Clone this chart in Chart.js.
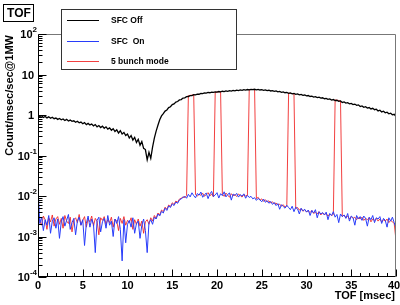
<!DOCTYPE html>
<html>
<head>
<meta charset="utf-8">
<script src="https://cdn.jsdelivr.net/npm/chart.js@4.4.1/dist/chart.umd.min.js"></script>
<style>
  body { margin: 0; background: #fff; }
</style>
</head>
<body>
<canvas id="tof" width="400" height="305"></canvas>
<script>
// histogram bins, 0.2 msec wide, 0..40 msec
var binWidth = 0.2;

var sfcOff = [
  0.98, 0.92, 0.96, 0.87, 0.92, 0.85, 0.90, 0.83, 0.88, 0.81,
  0.84, 0.78, 0.82, 0.76, 0.80, 0.73, 0.78, 0.71, 0.75, 0.70,
  0.72, 0.66, 0.70, 0.64, 0.67, 0.61, 0.65, 0.58, 0.62, 0.57,
  0.60, 0.54, 0.58, 0.51, 0.55, 0.49, 0.53, 0.47, 0.51, 0.45,
  0.48, 0.42, 0.46, 0.39, 0.43, 0.36, 0.41, 0.34, 0.37, 0.31,
  0.34, 0.27, 0.31, 0.24, 0.28, 0.21, 0.25, 0.18, 0.22, 0.15,
  0.14, 0.078, 0.12, 0.085, 0.16, 0.27, 0.40, 0.56, 0.76, 0.95,
  1.08, 1.25, 1.33, 1.52, 1.60, 1.80, 1.88, 2.08, 2.15, 2.35,
  2.40, 2.62, 2.66, 2.84, 2.86, 3.02, 3.00, 3.16, 3.13, 3.28,
  3.25, 3.42, 3.36, 3.52, 3.46, 3.60, 3.54, 3.68, 3.61, 3.74,
  3.68, 3.80, 3.72, 3.86, 3.78, 3.92, 3.84, 3.98, 3.90, 4.04,
  3.96, 4.10, 4.01, 4.16, 4.06, 4.22, 4.12, 4.26, 4.16, 4.30,
  4.22, 4.32, 4.18, 4.28, 4.14, 4.22, 4.08, 4.16, 4.00, 4.08,
  3.92, 4.00, 3.84, 3.92, 3.74, 3.82, 3.64, 3.72, 3.55, 3.62,
  3.44, 3.52, 3.34, 3.42, 3.25, 3.31, 3.15, 3.22, 3.06, 3.12,
  2.96, 3.03, 2.87, 2.93, 2.78, 2.85, 2.70, 2.75, 2.61, 2.66,
  2.52, 2.58, 2.43, 2.49, 2.34, 2.41, 2.26, 2.31, 2.17, 2.22,
  2.04, 2.11, 1.97, 2.02, 1.89, 1.94, 1.81, 1.86, 1.73, 1.78,
  1.62, 1.68, 1.55, 1.60, 1.48, 1.53, 1.41, 1.46, 1.35, 1.39,
  1.26, 1.31, 1.19, 1.24, 1.13, 1.17, 1.07, 1.11, 1.01, 1.04,
  0.92
];

var sfcOn = [
  0.016,
  0.0021, 0.0030, 0.0014, 0.0026, 0.0019, 0.0033, 0.0012, 0.0024, 0.0029, 0.0016,
  0.0027, 0.0009, 0.0023, 0.0031, 0.0018, 0.0025, 0.0035, 0.0015, 0.0022, 0.0028,
  0.0011, 0.0024, 0.0030, 0.0019, 0.0026, 0.0006, 0.0021, 0.0032, 0.0017, 0.0027,
  0.0020, 0.0004, 0.0025, 0.0030, 0.0013, 0.0023, 0.0028, 0.0016, 0.0033, 0.0019,
  0.0024, 0.0010, 0.0027, 0.0021, 0.0031, 0.0015, 0.00025, 0.0026, 0.0007, 0.0020,
  0.0025, 0.0017, 0.0029, 0.0012, 0.0021, 0.0024, 0.0009, 0.0019, 0.0027, 0.0014,
  0.0004, 0.0022, 0.0026, 0.0020, 0.0030, 0.0027, 0.0036, 0.0032, 0.0042, 0.0038,
  0.0050, 0.0044, 0.0057, 0.0052, 0.0064, 0.0058, 0.0071, 0.0066, 0.0080, 0.0085,
  0.0092, 0.0098, 0.0088, 0.0110, 0.0095, 0.0120, 0.0102, 0.0090, 0.0115, 0.0105,
  0.0125, 0.0093, 0.0108, 0.0118, 0.0086, 0.0112, 0.0130, 0.0097, 0.0106, 0.0121,
  0.0089, 0.0114, 0.0102, 0.0127, 0.0095, 0.0109, 0.0119, 0.0079, 0.0112, 0.0103,
  0.0116, 0.0094, 0.0108, 0.0099, 0.0113, 0.0088, 0.0104, 0.0092, 0.0098, 0.0085,
  0.0091, 0.0078, 0.0087, 0.0080, 0.0072, 0.0084, 0.0070, 0.0077, 0.0066, 0.0073,
  0.0062, 0.0069, 0.0058, 0.0065, 0.0047, 0.0061, 0.0055, 0.0050, 0.0059, 0.0052,
  0.0046, 0.0056, 0.0041, 0.0053, 0.0048, 0.0036, 0.0050, 0.0043, 0.0047, 0.0040,
  0.0045, 0.0033, 0.0044, 0.0038, 0.0046, 0.0029, 0.0041, 0.0036, 0.0039, 0.0034,
  0.0040, 0.0026, 0.0037, 0.0033, 0.0041, 0.0030, 0.0035, 0.0022, 0.0036, 0.0031,
  0.0034, 0.0028, 0.0037, 0.0024, 0.0032, 0.0029, 0.0019, 0.0033, 0.0027, 0.0031,
  0.0025, 0.0032, 0.0028, 0.0018, 0.0030, 0.0026, 0.0033, 0.0022, 0.0029, 0.0027,
  0.0031, 0.0021, 0.0028, 0.0025, 0.0017, 0.0029, 0.0024, 0.0030, 0.0022, 0.0016
];

// 5 bunch mode: same baseline plus the five open-chopper windows
var bunch5 = [
  0.0030,
  0.0024, 0.0019, 0.0032, 0.0026, 0.0015, 0.0029, 0.0023, 0.0034, 0.0018, 0.0027,
  0.0031, 0.0020, 0.0028, 0.0016, 0.0033, 0.0024, 0.0021, 0.0030, 0.0013, 0.0026,
  0.0029, 0.0022, 0.0035, 0.0019, 0.0025, 0.0031, 0.0017, 0.0027, 0.0023, 0.0032,
  0.0018, 0.0028, 0.0024, 0.0011, 0.0029, 0.0025, 0.0031, 0.0020, 0.0026, 0.0022,
  0.0030, 0.0017, 0.0027, 0.0024, 0.0014, 0.0028, 0.0021, 0.0031, 0.0019, 0.0025,
  0.0022, 0.0029, 0.0015, 0.0026, 0.0020, 0.0027, 0.0018, 0.0024, 0.0012, 0.0023,
  0.0026, 0.0020, 0.0029, 0.0024, 0.0033, 0.0028, 0.0038, 0.0034, 0.0045, 0.0041,
  0.0053, 0.0047, 0.0060, 0.0055, 0.0068, 0.0062, 0.0075, 0.0070, 0.0084, 0.0088,
  0.0095, 0.0091, 0.0103, 3.00, 3.05, 3.10, 3.12, 0.0108, 0.0099, 0.0112,
  0.0104, 0.0117, 0.0098, 0.0109, 0.0121, 0.0100, 0.0113, 0.0095, 3.66, 3.70,
  3.72, 3.75, 0.0110, 0.0098, 0.0118, 0.0105, 0.0093, 0.0114, 0.0101, 0.0108,
  0.0097, 0.0112, 0.0103, 0.0094, 0.0109, 0.0100, 0.0106, 4.20, 4.25, 4.28,
  4.26, 0.0086, 0.0093, 0.0079, 0.0085, 0.0074, 0.0081, 0.0071, 0.0076, 0.0068,
  0.0072, 0.0064, 0.0067, 0.0060, 0.0063, 0.0056, 0.0061, 0.0053, 0.0057, 3.45,
  3.42, 3.38, 3.34, 0.0049, 0.0052, 0.0045, 0.0048, 0.0042, 0.0046, 0.0041,
  0.0043, 0.0039, 0.0044, 0.0037, 0.0040, 0.0036, 0.0041, 0.0034, 0.0038, 0.0035,
  0.0037, 0.0032, 0.0036, 0.0033, 0.0035, 2.36, 2.32, 2.28, 2.24, 0.0031,
  0.0034, 0.0029, 0.0032, 0.0027, 0.0031, 0.0028, 0.0030, 0.0026, 0.0029, 0.0027,
  0.0030, 0.0025, 0.0028, 0.0026, 0.0029, 0.0023, 0.0027, 0.0025, 0.0028, 0.0024,
  0.0027, 0.0023, 0.0026, 0.0024, 0.0027, 0.0022, 0.0025, 0.0023, 0.0021, 0.0008
];

var seriesLabels = ['SFC Off', 'SFC  On', '5 bunch mode'];
var seriesColors = ['#000000', 'rgb(40,60,250)', 'rgba(240,30,30,0.85)'];
var xTickLabels = [0, 5, 10, 15, 20, 25, 30, 35, 40];
var yTickPowers = [2, 1, 0, -1, -2, -3, -4];

function toPoints(values) {
  return values.map(function (v, i) { return { x: i * binWidth, y: v }; });
}

var FONT = '"Liberation Sans", Arial, Helvetica, sans-serif';

var rootFrame = {
  id: 'rootFrame',
  afterDatasetsDraw: function (chart) {
    var ctx = chart.ctx, a = chart.chartArea;
    var xs = chart.scales.x, ys = chart.scales.y;
    var L = Math.round(a.left) + 0.5, R = Math.round(a.right) - 0.5;
    var T = Math.round(a.top) + 0.5, B = Math.round(a.bottom) - 0.5;
    ctx.save();
    ctx.lineWidth = 1;
    // frame
    ctx.strokeStyle = '#777';
    ctx.beginPath();
    ctx.moveTo(L, T); ctx.lineTo(R, T); ctx.lineTo(R, B);
    ctx.stroke();
    ctx.strokeStyle = '#000';
    ctx.beginPath();
    ctx.moveTo(L, T); ctx.lineTo(L, B); ctx.lineTo(R, B);
    ctx.stroke();
    // x ticks, pointing into the frame
    ctx.beginPath();
    for (var v = 0; v <= 40; v++) {
      var px = Math.round(xs.getPixelForValue(v)) + 0.5;
      var len = v % 5 === 0 ? 7 : 3.5;
      ctx.moveTo(px, B); ctx.lineTo(px, B - len);
    }
    // y ticks on log axis
    for (var e = -4; e <= 2; e++) {
      for (var m = 1; m <= 9; m++) {
        if (e === 2 && m > 1) break;
        var py = Math.round(ys.getPixelForValue(m * Math.pow(10, e))) + 0.5;
        var l2 = m === 1 ? 8 : 4;
        ctx.moveTo(L, py); ctx.lineTo(L + l2, py);
      }
    }
    ctx.stroke();
    ctx.restore();
  },
  afterDraw: function (chart) {
    var ctx = chart.ctx, a = chart.chartArea;
    var xs = chart.scales.x, ys = chart.scales.y;
    ctx.save();
    ctx.fillStyle = '#000';
    // x tick labels
    ctx.font = 'bold 11px ' + FONT;
    ctx.textAlign = 'center';
    ctx.textBaseline = 'middle';
    xTickLabels.forEach(function (v) {
      var px = xs.getPixelForValue(v);
      if (v === 40) px -= 2;
      ctx.fillText(String(v), px, a.bottom + 9);
    });
    // y tick labels 10^n
    yTickPowers.forEach(function (p) {
      var py = ys.getPixelForValue(Math.pow(10, p));
      var base = p === 0 ? '1' : '10';
      var exp = (p === 0 || p === 1) ? '' : (p < 0 ? '-' + (-p) : String(p));
      ctx.font = 'bold 8px ' + FONT;
      var ew = exp ? ctx.measureText(exp).width : 0;
      ctx.font = 'bold 11px ' + FONT;
      var bw = ctx.measureText(base).width;
      var right = exp ? 37 : 34;
      ctx.textAlign = 'left';
      ctx.textBaseline = 'middle';
      ctx.fillText(base, right - ew - bw, py + 1);
      if (exp) {
        ctx.font = 'bold 8px ' + FONT;
        ctx.fillText(exp, right - ew, py - 4);
      }
    });
    // axis titles
    ctx.font = 'bold 11px ' + FONT;
    ctx.textAlign = 'right';
    ctx.textBaseline = 'middle';
    ctx.fillText('TOF [msec]', a.right - 1, 296);
    ctx.save();
    ctx.translate(10, a.top + 1);
    ctx.rotate(-Math.PI / 2);
    ctx.textAlign = 'right';
    ctx.fillText('Count/msec/sec@1MW', 0, 0);
    ctx.restore();

    // legend box
    ctx.fillStyle = '#fff';
    ctx.fillRect(61, 9, 176, 61);
    ctx.strokeStyle = '#333';
    ctx.lineWidth = 1;
    ctx.strokeRect(61.5, 9.5, 175, 60);
    var rows = [20, 41, 61];
    chart.data.datasets.forEach(function (ds, i) {
      var y = rows[i] + 0.5;
      ctx.strokeStyle = ds.borderColor;
      ctx.lineWidth = 1;
      ctx.beginPath();
      ctx.moveTo(67, y); ctx.lineTo(99, y);
      ctx.stroke();
      ctx.fillStyle = '#000';
      ctx.font = 'bold 8.5px ' + FONT;
      ctx.textAlign = 'left';
      ctx.textBaseline = 'middle';
      ctx.fillText(ds.label, 111, y);
    });

    // title box
    ctx.fillStyle = '#fff';
    ctx.fillRect(3, 4, 31, 18);
    ctx.strokeStyle = '#000';
    ctx.strokeRect(3.5, 4.5, 30, 17);
    ctx.fillStyle = '#000';
    ctx.font = 'bold 12px ' + FONT;
    ctx.textAlign = 'center';
    ctx.textBaseline = 'middle';
    ctx.fillText('TOF', 19, 13.5);
    ctx.restore();
  }
};

var config = {
  type: 'line',
  data: {
    datasets: [{
      label: seriesLabels[0],
      data: toPoints(sfcOff),
      borderColor: seriesColors[0],
      borderWidth: 1.3,
      order: 0
    }, {
      label: seriesLabels[1],
      data: toPoints(sfcOn),
      borderColor: seriesColors[1],
      borderWidth: 1,
      order: 1
    }, {
      label: seriesLabels[2],
      data: toPoints(bunch5),
      borderColor: seriesColors[2],
      borderWidth: 1,
      order: 2
    }]
  },
  options: {
    responsive: false,
    animation: false,
    events: [],
    layout: { padding: { left: 38, right: 4, top: 34, bottom: 28 } },
    elements: { point: { radius: 0 }, line: { tension: 0 } },
    plugins: {
      legend: { display: false },
      tooltip: { enabled: false }
    },
    scales: {
      x: { type: 'linear', min: 0, max: 40, display: false },
      y: { type: 'logarithmic', min: 1e-4, max: 100, display: false }
    }
  },
  plugins: [rootFrame]
};

window.onload = function () {
  var ctx = document.getElementById('tof').getContext('2d');
  window.tofChart = new Chart(ctx, config);
};
</script>
</body>
</html>
